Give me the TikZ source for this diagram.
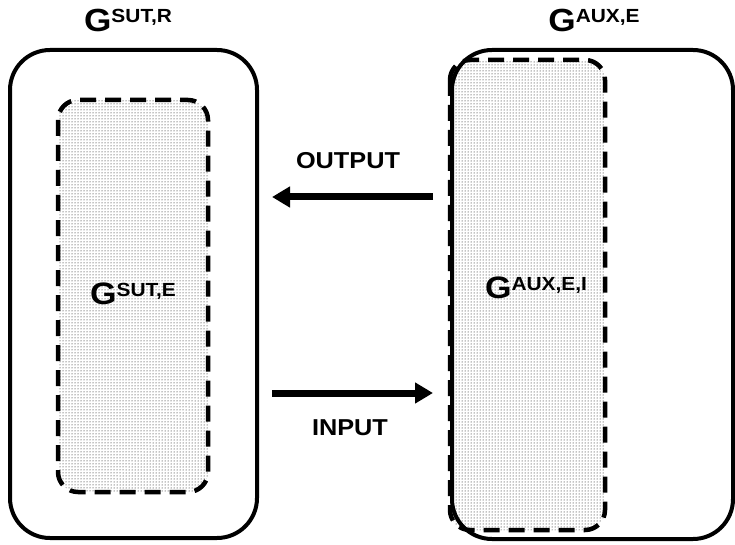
\documentclass[tikz,border=0pt]{standalone}
\usepackage{fontspec}
\setmainfont{Liberation Sans}
\usetikzlibrary{arrows.meta,patterns}
\newcommand{\GLabel}[4]{\scalebox{1.1}[1]{\bfseries\fontsize{#1}{#1}\selectfont G\raisebox{#3}{\fontsize{#2}{#2}\selectfont #4}}}
\begin{document}
\begin{tikzpicture}[x=1pt,y=-1pt,
  outerbox/.style={line width=4pt,rounded corners=40pt},
  innerbox/.style={line width=4.5pt,dash pattern=on 16pt off 9pt,rounded corners=20pt,pattern=dots,pattern color=black},
  bigarrow/.style={line width=7pt,-{Triangle[length=18pt,width=20pt]}},
  lbl/.style={inner sep=0pt,font=\bfseries\fontsize{23}{23}\selectfont}]
\useasboundingbox (0,0) rectangle (735,545);
% left group
\draw[outerbox] (10,50) rectangle (257,538);
\draw[innerbox] (58,100) rectangle (208,492);
% right group
\draw[outerbox] (452,50) rectangle (733,539);
\draw[innerbox] (450,60) rectangle (605,530);
% labels
\node[inner sep=0pt] (hl) at (128,20) {\GLabel{32}{19}{8.5pt}{SUT,R}};
\node[inner sep=0pt] (hr) at (594,20) {\GLabel{32}{19}{8.5pt}{AUX,E}};
\node[inner sep=0pt] (il) at (133,294) {\GLabel{31}{19}{8.2pt}{SUT,E}};
\node[inner sep=0pt] (ir) at (536,288) {\GLabel{31}{19}{8.2pt}{AUX,E,I}};
\node[lbl] (out) at (348,161) {\scalebox{1.1}[1]{OUTPUT}};
\node[lbl] (in) at (350,428) {\scalebox{1.1}[1]{INPUT}};
% arrows
\coordinate (oa) at (433,197);
\coordinate (ob) at (272,197);
\coordinate (ia) at (272,393);
\coordinate (ib) at (433,393);
\draw[bigarrow] (oa) -- (ob);
\draw[bigarrow] (ia) -- (ib);
\end{tikzpicture}
\end{document}
